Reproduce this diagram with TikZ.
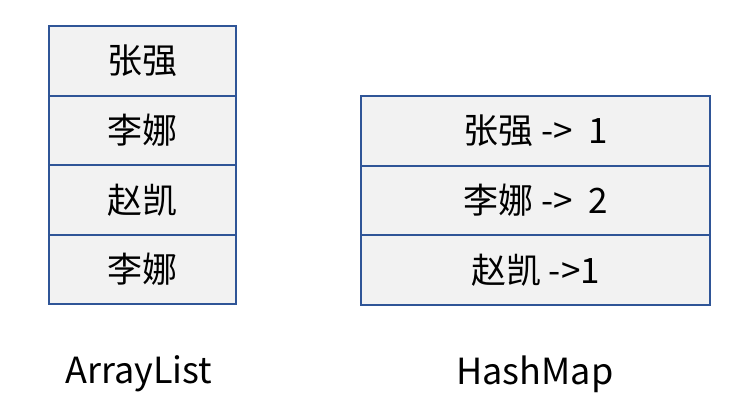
\documentclass[tikz,border=0pt]{standalone}
\usepackage{fontspec}
\setmainfont{Noto Sans CJK SC}
\definecolor{cellfill}{HTML}{F2F2F2}
\definecolor{celledge}{HTML}{2F5597}
\begin{document}
\begin{tikzpicture}[x=1pt,y=-1pt,
  cell/.style={draw=celledge, line width=2pt, fill=cellfill, minimum height=69.5pt, inner sep=0pt, font=\fontsize{35}{40}\selectfont},
  leftcell/.style={cell, minimum width=187pt},
  rightcell/.style={cell, minimum width=349pt},
  caption/.style={font=\fontsize{36}{42}\selectfont, inner sep=0pt}]
\useasboundingbox (0,0) rectangle (752,418);
% ArrayList column
\node[leftcell] (a1) at (142.5,61) {张强};
\node[leftcell] (a2) at (142.5,130.5) {李娜};
\node[leftcell] (a3) at (142.5,200) {赵凯};
\node[leftcell] (a4) at (142.5,269.5) {李娜};
% HashMap column
\node[rightcell] (h1) at (535.5,131) {张强 -> \ 1};
\node[rightcell] (h2) at (535.5,200.5) {李娜 -> \ 2};
\node[rightcell] (h3) at (535.5,270) {赵凯 ->1};
% captions
\node[caption] (l1) at (139,374) {ArrayList};
\node[caption] (l2) at (535,374) {HashMap};
\end{tikzpicture}
\end{document}
